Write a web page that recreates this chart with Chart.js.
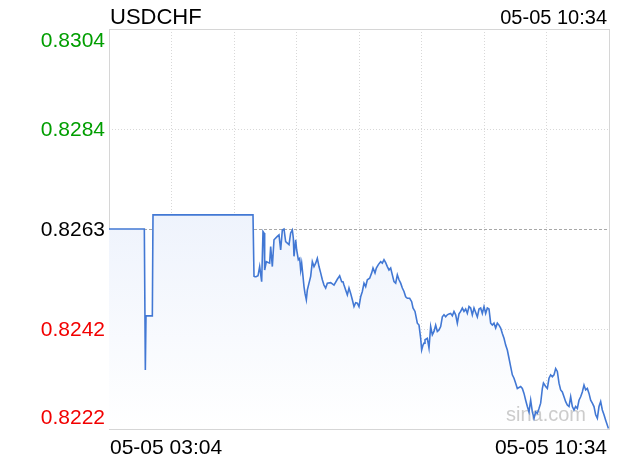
<!DOCTYPE html>
<html lang="zh">
<head>
  <meta charset="UTF-8" />
  <title>USDCHF</title>
  <script src="https://cdn.jsdelivr.net/npm/chart.js"></script>
  <style>
    body { margin: 0; background: #fff; }
    #wrap { width: 620px; height: 460px; }
  </style>
</head>
<body>
  <div id="wrap"><canvas id="chart" width="620" height="460"></canvas></div>

  <script>
    const symbol = 'USDCHF';
    const lastTime = '05-05 10:34';
    const xLabels = ['05-05 03:04', '05-05 10:34'];

    // price axis: top, quarter, prev close, quarter, bottom
    const yTicks = [0.8304, 0.82835, 0.8263, 0.82425, 0.8222];
    const yLabels = ['0.8304', '0.8284', '0.8263', '0.8242', '0.8222'];
    const prevClose = 0.8263;

    // minutes since 03:04 (0 .. 450)
    const minutes = [
      0, 31.8, 32.7, 33.3, 39, 39.6, 129.6, 130.5, 131.4, 132.3,
      134.1, 135.6, 137.4, 138.6, 139.5, 140.1, 141.6, 144.6, 145.5, 147,
      148.5, 151.5, 153, 154.5, 156, 157.5, 159, 160.5, 162, 163.5,
      165, 165.9, 166.5, 168, 168.9, 170.4, 171.6, 172.5, 173.4, 174.6,
      175.5, 176.4, 177.6, 178.5, 180, 181.5, 183, 184.5, 186, 187.5,
      189, 190.5, 192, 193.5, 195, 196.5, 199.5, 202.5, 205.5, 207.6,
      209.4, 210.6, 211.5, 213, 214.5, 216, 217.5, 219, 220.5, 222,
      223.5, 225, 226.5, 228, 229.5, 231, 232.5, 234.6, 236.4, 237.6,
      239.4, 240.6, 242.4, 244.5, 246, 247.5, 249, 250.5, 252, 253.5,
      255, 256.5, 258, 259.5, 261, 262.5, 264, 265.5, 267, 268.5,
      270.6, 272.4, 273.6, 275.4, 277.5, 279, 280.5, 281.4, 282.6, 283.5,
      284.4, 286.5, 288, 289.5, 291, 292.5, 294, 295.5, 297, 298.5,
      300, 301.5, 303, 304.5, 306, 307.5, 309, 310.5, 312, 313.5,
      315, 316.5, 318, 319.5, 321, 322.5, 324, 325.5, 327, 328.5,
      330, 331.5, 333, 334.5, 336, 337.5, 339, 340.5, 342, 343.5,
      345, 346.5, 348, 349.5, 351, 352.5, 354, 355.5, 357, 358.5,
      360, 361.5, 363, 364.5, 366, 367.5, 370.5, 372, 373.5, 375,
      376.5, 378, 379.5, 381, 382.5, 384, 385.5, 387, 388.5, 390,
      391, 393, 394.5, 396, 397.5, 399, 400.5, 402, 403.5, 405,
      406.5, 408, 409.5, 411, 412.5, 414, 415.5, 417, 418.5, 420,
      421.5, 423, 424.5, 426, 427.5, 429, 430.5, 432, 433.5, 435,
      436.5, 438, 439.5, 441, 442.5, 444, 445.5, 447, 449.5
    ];

    const prices = [
      0.8263, 0.8263, 0.82341, 0.82452, 0.82452, 0.82659, 0.82659, 0.82533, 0.82532, 0.82532,
      0.82534, 0.82553, 0.82522, 0.82625, 0.82622, 0.82546, 0.82563, 0.8256, 0.82594, 0.82553,
      0.82608, 0.82615, 0.82618, 0.82587, 0.82628, 0.8263, 0.82604, 0.82601, 0.82598, 0.82622,
      0.82628, 0.82611, 0.82574, 0.82608, 0.82587, 0.82567, 0.8257, 0.82546, 0.8256, 0.82533,
      0.82512, 0.82498, 0.82485, 0.82505, 0.82519, 0.82533, 0.82563, 0.82553, 0.8256, 0.8257,
      0.82553, 0.8254, 0.82526, 0.82515, 0.82509, 0.82519, 0.8252, 0.82515, 0.82527, 0.82534,
      0.82522, 0.82522, 0.82515, 0.82505, 0.82495, 0.82509, 0.82498, 0.82485, 0.82471, 0.82479,
      0.82478, 0.82471, 0.82491, 0.82502, 0.82519, 0.82512, 0.82526, 0.82529, 0.8254, 0.8255,
      0.8254, 0.8255, 0.82557, 0.82563, 0.8256, 0.82567, 0.82561, 0.82553, 0.82546, 0.8255,
      0.82536, 0.82522, 0.82519, 0.82536, 0.82526, 0.82519, 0.82509, 0.82502, 0.82491, 0.82488,
      0.82488, 0.82481, 0.82468, 0.82461, 0.82437, 0.82433, 0.82406, 0.82382, 0.82392, 0.82396,
      0.82403, 0.82406, 0.82386, 0.8243, 0.82413, 0.8242, 0.82433, 0.8242, 0.82423, 0.8243,
      0.8245, 0.82454, 0.8245, 0.82454, 0.82456, 0.82457, 0.82452, 0.82461, 0.82454, 0.82437,
      0.82456, 0.82461, 0.82468, 0.82461, 0.82466, 0.82457, 0.82471, 0.82468, 0.82454, 0.82468,
      0.82459, 0.8245, 0.82466, 0.82468, 0.82457, 0.82471, 0.82457, 0.82468, 0.82466, 0.82437,
      0.82433, 0.82437, 0.82427, 0.82437, 0.82433, 0.82427, 0.82416, 0.82406, 0.82392, 0.82382,
      0.82365, 0.82348, 0.82331, 0.82324, 0.82314, 0.82303, 0.82307, 0.82303, 0.82293, 0.82279,
      0.82266, 0.82255, 0.82279, 0.82255, 0.82242, 0.82255, 0.82252, 0.82262, 0.82273, 0.82303,
      0.82314, 0.82307, 0.82303, 0.82324, 0.82331, 0.82327, 0.82331, 0.82344, 0.82338, 0.82314,
      0.823, 0.82296, 0.82286, 0.82276, 0.82269, 0.82266, 0.82286, 0.82266, 0.82259, 0.82266,
      0.82262, 0.82279, 0.82286, 0.82296, 0.8231, 0.823, 0.82303, 0.82293, 0.82279, 0.82273,
      0.82266, 0.82249, 0.82242, 0.82266, 0.82276, 0.82259, 0.82249, 0.82238, 0.82221
    ];

    if (minutes.length !== prices.length) {
      throw new Error('length mismatch ' + minutes.length + ' vs ' + prices.length);
    }

    const FONT = '"Liberation Sans", Arial, sans-serif';
    const xStep = 450 / 8;

    const overlay = {
      id: 'overlay',
      beforeDatasetsDraw(chart) {
        const { ctx, chartArea: a } = chart;
        ctx.save();
        ctx.strokeStyle = '#d6d6d6';
        ctx.lineWidth = 1;
        ctx.strokeRect(a.left + 0.5, a.top + 0.5, a.right - a.left, a.bottom - a.top);
        ctx.restore();
      },
      // runs after the filler has painted the area, before the line itself
      beforeDatasetDraw(chart) {
        const ctx = chart.ctx;
        ctx.save();
        ctx.fillStyle = '#cccccc';
        ctx.font = '20px ' + FONT;
        ctx.textAlign = 'left';
        ctx.textBaseline = 'alphabetic';
        ctx.fillText('sina.com', 506, 421);
        ctx.restore();
      },
      afterDraw(chart) {
        const { ctx, chartArea: a } = chart;
        const y = chart.scales.y;
        ctx.save();
        ctx.textBaseline = 'alphabetic';

        ctx.fillStyle = '#000';
        ctx.font = '22px ' + FONT;
        ctx.textAlign = 'left';
        ctx.fillText(symbol, a.left + 1, 24);

        ctx.font = '20px ' + FONT;
        ctx.textAlign = 'right';
        ctx.fillText(lastTime, 607, 24);

        ctx.font = '21px ' + FONT;
        yTicks.forEach((v, i) => {
          const py = y.getPixelForValue(v);
          let base = py + 7;
          if (i === 0) base = a.top + 18;
          if (i === yTicks.length - 1) base = a.bottom - 5;
          ctx.fillStyle = v > prevClose + 1e-6 ? '#009e00' : (v < prevClose - 1e-6 ? '#f20000' : '#000');
          ctx.textAlign = 'right';
          ctx.fillText(yLabels[i], 105, base);
        });

        ctx.fillStyle = '#000';
        ctx.textAlign = 'left';
        ctx.fillText(xLabels[0], a.left + 1, 454);
        ctx.textAlign = 'right';
        ctx.fillText(xLabels[1], 607, 454);
        ctx.restore();
      }
    };

    new Chart(document.getElementById('chart'), {
      type: 'line',
      data: {
        datasets: [{
          data: minutes.map((m, i) => ({ x: m, y: prices[i] })),
          borderColor: '#4278d4',
          borderWidth: 1.6,
          pointRadius: 0,
          tension: 0,
          fill: 'start',
          backgroundColor: (c) => {
            const a = c.chart.chartArea;
            if (!a) return 'rgba(0,0,0,0)';
            const g = c.chart.ctx.createLinearGradient(0, a.top, 0, a.bottom);
            g.addColorStop(0, '#e0e9fa');
            g.addColorStop(1, '#ffffff');
            return g;
          }
        }]
      },
      options: {
        responsive: false,
        animation: false,
        layout: { padding: { left: 109, top: 29, right: 11, bottom: 31 } },
        plugins: { legend: { display: false }, tooltip: { enabled: false } },
        scales: {
          x: {
            type: 'linear',
            min: 0,
            max: 450,
            afterBuildTicks: (s) => { s.ticks = Array.from({ length: 9 }, (_, i) => ({ value: i * xStep })); },
            ticks: { display: false },
            grid: { color: '#d8d8d8', lineWidth: 1, drawTicks: false },
            border: { display: false, dash: [1, 2] }
          },
          y: {
            min: yTicks[yTicks.length - 1],
            max: yTicks[0],
            afterBuildTicks: (s) => { s.ticks = yTicks.map(v => ({ value: v })); },
            ticks: { display: false },
            grid: {
              color: (c) => c.index === 2 ? '#a8a8a8' : '#d8d8d8',
              lineWidth: 1,
              drawTicks: false
            },
            border: {
              display: false,
              dash: (c) => c.index === 2 ? [3, 2] : [1, 2]
            }
          }
        }
      },
      plugins: [overlay]
    });
  </script>
</body>
</html>
